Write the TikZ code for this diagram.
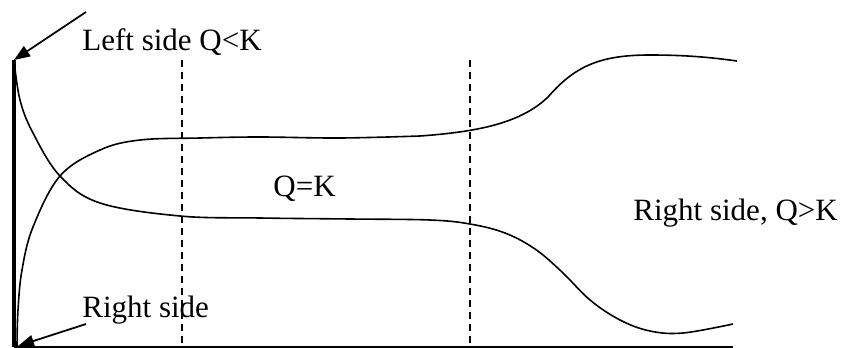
\documentclass[tikz,border=0pt]{standalone}
\usepackage{fontspec}
\setmainfont{Liberation Serif}
\usetikzlibrary{arrows.meta}

\begin{document}
\begin{tikzpicture}[
  x=0.5pt, y=-0.5pt,
  lbl/.style={font=\fontsize{15.5}{18}\selectfont, inner sep=0pt, anchor=base west},
  curve/.style={line width=0.8pt, smooth, tension=0.6},
  guide/.style={line width=0.9pt, dash pattern=on 3.5pt off 2.5pt},
  >={Triangle[length=8pt, width=6pt]}]
  \useasboundingbox (0,0) rectangle (846,348);
  \coordinate (axtop) at (14,60);
  \coordinate (axbot) at (14,347);
  \coordinate (axend) at (733,347);
  \coordinate (tipbot) at (18,346);
  % axes
  \draw[line width=2pt] (axtop) -- (axbot);
  \draw[line width=0.9pt] (axbot) -- (axend);
  % region borders
  \draw[guide] (182,60) -- (182,347);
  \draw[guide] (470,60) -- (470,347);
  % labels
  \node[lbl] (left) at (82,50) {Left side Q<K};
  \node[lbl] (right) at (82,317) {Right side};
  \node[lbl] (eq) at (273,196) {Q=K};
  \node[lbl] (gt) at (633,220) {Right side, Q>K};
  \coordinate (lstart) at (86,12);
  \coordinate (rstart) at (86,324);
  \draw[->, line width=0.9pt] (lstart) -- (axtop);
  \draw[->, line width=0.9pt] (rstart) -- (tipbot);
  % concentration curves
  \draw[curve] plot coordinates {(17,346) (18,310) (22,270) (33,227) (60,176) (100,150)
    (140,140) (200,138) (260,137) (340,138) (420,136)}
    .. controls (475,132) and (520,124) .. (548,97)
    .. controls (575,66) and (600,55) .. (650,55)
    .. controls (690,55) and (715,58) .. (737,61);
  \draw[curve] plot coordinates {(14,60) (20,100) (33,133) (60,176) (100,203) (180,216)
    (260,218) (350,219) (430,220) (470,224) (505,233) (535,249) (562,272) (590,300)
    (620,320) (650,331) (683,333) (733,324)};
\end{tikzpicture}
\end{document}
